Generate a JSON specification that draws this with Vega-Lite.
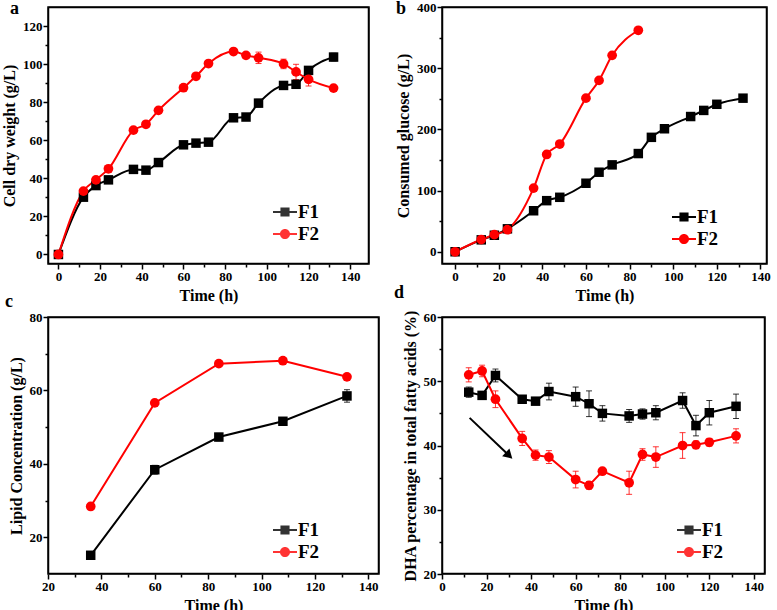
{
  "$schema": "https://vega.github.io/schema/vega-lite/v6.json",
  "background": "white",
  "padding": {"left": 0, "top": -2, "right": 0, "bottom": 0},
  "config": {
    "font": "Liberation Serif",
    "view": {"stroke": "#000000", "strokeWidth": 1.5},
    "axis": {
      "grid": false, "domain": false, "tickColor": "#000000", "tickWidth": 1.5,
      "labelFont": "Liberation Serif", "labelFontWeight": "bold", "labelFontSize": 13, "labelColor": "#000000",
      "titleFont": "Liberation Serif", "titleFontWeight": "bold", "titleFontSize": 16, "titleColor": "#000000",
      "labelPadding": 1, "labelFlush": false, "labelOverlap": false
    },
    "axisX": {"titlePadding": 4},
    "axisY": {"titlePadding": 5},
    "legend": {"orient": "none", "title": null, "symbolSize": 576, "symbolStrokeWidth": 0, "labelFontSize": 19, "labelFontWeight": "bold", "labelFont": "Liberation Serif", "labelColor": "#000000", "labelOffset": 1, "rowPadding": 0, "padding": 0},
    "title": {"font": "Liberation Serif", "fontWeight": "bold", "fontSize": 18, "anchor": "start", "frame": "group", "color": "#000000"}
  },
  "datasets": {
    "a": [
      {"s": "F1", "t": 0, "v": 0, "e": 0}, {"s": "F1", "t": 12, "v": 30.1, "e": 0.5}, {"s": "F1", "t": 18, "v": 36.2, "e": 1},
      {"s": "F1", "t": 24, "v": 39.2, "e": 1}, {"s": "F1", "t": 36, "v": 44.7, "e": 1}, {"s": "F1", "t": 42, "v": 44.3, "e": 1},
      {"s": "F1", "t": 48, "v": 48.3, "e": 1}, {"s": "F1", "t": 60, "v": 57.6, "e": 1}, {"s": "F1", "t": 66, "v": 58.5, "e": 1},
      {"s": "F1", "t": 72, "v": 59.0, "e": 1}, {"s": "F1", "t": 84, "v": 71.8, "e": 1}, {"s": "F1", "t": 90, "v": 72.2, "e": 1.5},
      {"s": "F1", "t": 96, "v": 79.5, "e": 2}, {"s": "F1", "t": 108, "v": 88.8, "e": 2}, {"s": "F1", "t": 114, "v": 89.4, "e": 1.5},
      {"s": "F1", "t": 120, "v": 96.7, "e": 1}, {"s": "F1", "t": 132, "v": 103.7, "e": 2},
      {"s": "F2", "t": 0, "v": 0, "e": 0}, {"s": "F2", "t": 12, "v": 33.3, "e": 0.5}, {"s": "F2", "t": 18, "v": 39.2, "e": 0.5},
      {"s": "F2", "t": 24, "v": 45.0, "e": 0.5}, {"s": "F2", "t": 36, "v": 65.3, "e": 0.5}, {"s": "F2", "t": 42, "v": 68.4, "e": 0.5},
      {"s": "F2", "t": 48, "v": 75.7, "e": 0.5}, {"s": "F2", "t": 60, "v": 87.6, "e": 0.5}, {"s": "F2", "t": 66, "v": 93.6, "e": 0.5},
      {"s": "F2", "t": 72, "v": 100.3, "e": 0.5}, {"s": "F2", "t": 84, "v": 106.6, "e": 1.5}, {"s": "F2", "t": 90, "v": 104.6, "e": 1},
      {"s": "F2", "t": 96, "v": 103.3, "e": 3}, {"s": "F2", "t": 108, "v": 100.1, "e": 2.5}, {"s": "F2", "t": 114, "v": 95.9, "e": 4},
      {"s": "F2", "t": 120, "v": 92.0, "e": 3.5}, {"s": "F2", "t": 132, "v": 87.4, "e": 1}
    ],
    "b": [
      {"s": "F1", "t": 0, "v": 0}, {"s": "F1", "t": 12, "v": 19.5}, {"s": "F1", "t": 18, "v": 27}, {"s": "F1", "t": 24, "v": 37.5},
      {"s": "F1", "t": 36, "v": 67}, {"s": "F1", "t": 42, "v": 83.5}, {"s": "F1", "t": 48, "v": 89}, {"s": "F1", "t": 60, "v": 112},
      {"s": "F1", "t": 66, "v": 130}, {"s": "F1", "t": 72, "v": 142}, {"s": "F1", "t": 84, "v": 160.5}, {"s": "F1", "t": 90, "v": 187},
      {"s": "F1", "t": 96, "v": 201}, {"s": "F1", "t": 108, "v": 221}, {"s": "F1", "t": 114, "v": 231}, {"s": "F1", "t": 120, "v": 241},
      {"s": "F1", "t": 132, "v": 251},
      {"s": "F2", "t": 0, "v": 0}, {"s": "F2", "t": 12, "v": 20}, {"s": "F2", "t": 18, "v": 28}, {"s": "F2", "t": 24, "v": 36},
      {"s": "F2", "t": 36, "v": 104}, {"s": "F2", "t": 42, "v": 159}, {"s": "F2", "t": 48, "v": 176}, {"s": "F2", "t": 60, "v": 251},
      {"s": "F2", "t": 66, "v": 280}, {"s": "F2", "t": 72, "v": 321}, {"s": "F2", "t": 84, "v": 362}
    ],
    "c": [
      {"s": "F1", "t": 36, "v": 15.1, "e": 0.3}, {"s": "F1", "t": 60, "v": 38.4, "e": 1.2}, {"s": "F1", "t": 84, "v": 47.3, "e": 1},
      {"s": "F1", "t": 108, "v": 51.6, "e": 0.7}, {"s": "F1", "t": 132, "v": 58.5, "e": 1.7},
      {"s": "F2", "t": 36, "v": 28.4, "e": 0.4}, {"s": "F2", "t": 60, "v": 56.6, "e": 0.6}, {"s": "F2", "t": 84, "v": 67.3, "e": 0.5},
      {"s": "F2", "t": 108, "v": 68.1, "e": 0.5}, {"s": "F2", "t": 132, "v": 63.7, "e": 0.5}
    ],
    "d": [
      {"s": "F1", "t": 12, "v": 48.3, "e": 0.8}, {"s": "F1", "t": 18, "v": 47.8, "e": 0.5}, {"s": "F1", "t": 24, "v": 50.9, "e": 1},
      {"s": "F1", "t": 36, "v": 47.2, "e": 0.4}, {"s": "F1", "t": 42, "v": 46.9, "e": 0.4}, {"s": "F1", "t": 48, "v": 48.4, "e": 1.3},
      {"s": "F1", "t": 60, "v": 47.6, "e": 1.5}, {"s": "F1", "t": 66, "v": 46.5, "e": 2}, {"s": "F1", "t": 72, "v": 45.0, "e": 1.2},
      {"s": "F1", "t": 84, "v": 44.6, "e": 1}, {"s": "F1", "t": 90, "v": 44.9, "e": 0.8}, {"s": "F1", "t": 96, "v": 45.1, "e": 1.1},
      {"s": "F1", "t": 108, "v": 47.0, "e": 1.2}, {"s": "F1", "t": 114, "v": 43.1, "e": 1.6}, {"s": "F1", "t": 120, "v": 45.1, "e": 1.9},
      {"s": "F1", "t": 132, "v": 46.1, "e": 1.9},
      {"s": "F2", "t": 12, "v": 51.0, "e": 1.1}, {"s": "F2", "t": 18, "v": 51.6, "e": 0.9}, {"s": "F2", "t": 24, "v": 47.2, "e": 1.3},
      {"s": "F2", "t": 36, "v": 41.1, "e": 1.1}, {"s": "F2", "t": 42, "v": 38.5, "e": 0.8}, {"s": "F2", "t": 48, "v": 38.2, "e": 1},
      {"s": "F2", "t": 60, "v": 34.7, "e": 1.3}, {"s": "F2", "t": 66, "v": 33.8, "e": 0.6}, {"s": "F2", "t": 72, "v": 36.0, "e": 0.4},
      {"s": "F2", "t": 84, "v": 34.2, "e": 1.8}, {"s": "F2", "t": 90, "v": 38.6, "e": 0.9}, {"s": "F2", "t": 96, "v": 38.2, "e": 1.6},
      {"s": "F2", "t": 108, "v": 40.0, "e": 2}, {"s": "F2", "t": 114, "v": 40.1, "e": 0.6}, {"s": "F2", "t": 120, "v": 40.5, "e": 0.6},
      {"s": "F2", "t": 132, "v": 41.5, "e": 1.1}
    ],
    "frame_a": [
      {"t": -4.76, "v": 129.74, "t2": 148.76, "v2": 129.74}, {"t": -4.76, "v": -4.74, "t2": 148.76, "v2": -4.74},
      {"t": -4.76, "v": -4.74, "t2": -4.76, "v2": 129.74}, {"t": 148.76, "v": -4.74, "t2": 148.76, "v2": 129.74}
    ],
    "frame_b": [
      {"t": -5.77, "v": 399.18, "t2": 142.77, "v2": 399.18}, {"t": -5.77, "v": -19.18, "t2": 142.77, "v2": -19.18},
      {"t": -5.77, "v": -19.18, "t2": -5.77, "v2": 399.18}, {"t": 142.77, "v": -19.18, "t2": 142.77, "v2": 399.18}
    ],
    "frame_c": [
      {"t": 20.19, "v": 79.86, "t2": 143.81, "v2": 79.86}, {"t": 20.19, "v": 10.14, "t2": 143.81, "v2": 10.14},
      {"t": 20.19, "v": 10.14, "t2": 20.19, "v2": 79.86}, {"t": 143.81, "v": 10.14, "t2": 143.81, "v2": 79.86}
    ],
    "frame_d": [
      {"t": 0.22, "v": 59.92, "t2": 144.78, "v2": 59.92}, {"t": 0.22, "v": 20.08, "t2": 144.78, "v2": 20.08},
      {"t": 0.22, "v": 20.08, "t2": 0.22, "v2": 59.92}, {"t": 144.78, "v": 20.08, "t2": 144.78, "v2": 59.92}
    ],
    "arrow": [{"t": 12.4, "v": 44.3, "t2": 30.1, "v2": 38.44}],
    "arrowhead": [{"t": 30.1, "v": 38.44}]
  },
  "columns": 2,
  "spacing": {"column": 13, "row": -21},
  "resolve": {"scale": {"color": "independent", "shape": "independent"}, "legend": {"color": "independent", "shape": "independent"}},
  "concat": [
    {
      "width": 321, "height": 257,
      "title": {"text": "a", "dx": -38, "dy": 15},
      "data": {"name": "a"},
      "encoding": {
        "x": {"field": "t", "type": "quantitative", "scale": {"domain": [-5, 149], "nice": false, "zero": false},
          "axis": {"title": "Time (h)", "values": [0, 10, 20, 30, 40, 50, 60, 70, 80, 90, 100, 110, 120, 130, 140],
            "labelExpr": "datum.value % 20 === 0 ? datum.label : ''",
            "tickSize": {"condition": {"test": "datum.value % 20 === 0", "value": 5}, "value": 3}}},
        "y": {"field": "v", "type": "quantitative", "scale": {"domain": [-5, 130], "nice": false, "zero": false},
          "axis": {"title": "Cell dry weight (g/L)", "values": [0, 10, 20, 30, 40, 50, 60, 70, 80, 90, 100, 110, 120],
            "labelExpr": "datum.value % 20 === 0 ? datum.label : ''",
            "tickSize": {"condition": {"test": "datum.value % 20 === 0", "value": 5}, "value": 3}}},
        "color": {"field": "s", "type": "nominal", "scale": {"domain": ["F1", "F2"], "range": ["#000000", "#ff0000"]}}
      },
      "layer": [
        {"data": {"name": "frame_a"}, "mark": {"type": "rule", "strokeWidth": 1.5},
          "encoding": {"x2": {"field": "t2"}, "y2": {"field": "v2"}, "color": {"value": "#000000"}}},
        {"mark": {"type": "errorbar", "ticks": {"size": 6}, "thickness": 1, "opacity": 0.8}, "encoding": {"yError": {"field": "e"}}},
        {"mark": {"type": "line", "strokeWidth": 2, "interpolate": "monotone"}, "encoding": {}},
        {"transform": [{"filter": "datum.s === 'F1'"}], "mark": {"type": "point", "shape": "square", "filled": true, "size": 90, "opacity": 1}},
        {"transform": [{"filter": "datum.s === 'F2'"}], "mark": {"type": "point", "shape": "circle", "filled": true, "size": 95, "opacity": 1}},
        {"transform": [{"filter": "false"}], "mark": {"type": "point", "filled": true, "opacity": 1},
          "encoding": {
            "color": {"field": "s", "type": "nominal", "scale": {"domain": ["F1", "F2"], "range": ["#000000", "#ff0000"]}, "legend": {"legendX": 225, "legendY": 193}},
            "shape": {"field": "s", "type": "nominal", "scale": {"domain": ["F1", "F2"], "range": ["M-1,-0.08H1V0.08H-1ZM-0.38,-0.38H0.38V0.38H-0.38Z", "M-1,-0.08H1V0.08H-1ZM0.42,0A0.42,0.42,0,1,1,-0.42,0A0.42,0.42,0,1,1,0.42,0Z"]}, "legend": {"legendX": 225, "legendY": 193}}}}
      ]
    },
    {
      "width": 325, "height": 257,
      "title": {"text": "b", "dx": -46, "dy": 21},
      "data": {"name": "b"},
      "encoding": {
        "x": {"field": "t", "type": "quantitative", "scale": {"domain": [-6, 143], "nice": false, "zero": false},
          "axis": {"title": "Time (h)", "values": [0, 10, 20, 30, 40, 50, 60, 70, 80, 90, 100, 110, 120, 130, 140],
            "labelExpr": "datum.value % 20 === 0 ? datum.label : ''",
            "tickSize": {"condition": {"test": "datum.value % 20 === 0", "value": 5}, "value": 3}}},
        "y": {"field": "v", "type": "quantitative", "scale": {"domain": [-20, 400], "nice": false, "zero": false},
          "axis": {"title": "Consumed glucose (g/L)", "values": [0, 50, 100, 150, 200, 250, 300, 350, 400],
            "labelExpr": "datum.value % 100 === 0 ? datum.label : ''",
            "tickSize": {"condition": {"test": "datum.value % 100 === 0", "value": 5}, "value": 3}}},
        "color": {"field": "s", "type": "nominal", "scale": {"domain": ["F1", "F2"], "range": ["#000000", "#ff0000"]}}
      },
      "layer": [
        {"data": {"name": "frame_b"}, "mark": {"type": "rule", "strokeWidth": 1.5},
          "encoding": {"x2": {"field": "t2"}, "y2": {"field": "v2"}, "color": {"value": "#000000"}}},
        {"mark": {"type": "line", "strokeWidth": 2, "interpolate": "monotone"}, "encoding": {}},
        {"transform": [{"filter": "datum.s === 'F1'"}], "mark": {"type": "point", "shape": "square", "filled": true, "size": 90, "opacity": 1}},
        {"transform": [{"filter": "datum.s === 'F2'"}], "mark": {"type": "point", "shape": "circle", "filled": true, "size": 95, "opacity": 1}},
        {"transform": [{"filter": "false"}], "mark": {"type": "point", "filled": true, "opacity": 1},
          "encoding": {
            "color": {"field": "s", "type": "nominal", "scale": {"domain": ["F1", "F2"], "range": ["#000000", "#ff0000"]}, "legend": {"legendX": 230, "legendY": 198}},
            "shape": {"field": "s", "type": "nominal", "scale": {"domain": ["F1", "F2"], "range": ["M-1,-0.08H1V0.08H-1ZM-0.38,-0.38H0.38V0.38H-0.38Z", "M-1,-0.08H1V0.08H-1ZM0.42,0A0.42,0.42,0,1,1,-0.42,0A0.42,0.42,0,1,1,0.42,0Z"]}, "legend": {"legendX": 230, "legendY": 198}}}}
      ]
    },
    {
      "width": 331, "height": 257,
      "title": {"text": "c", "dx": -43, "dy": 3.7},
      "data": {"name": "c"},
      "encoding": {
        "x": {"field": "t", "type": "quantitative", "scale": {"domain": [20, 144], "nice": false, "zero": false},
          "axis": {"title": "Time (h)", "values": [20, 30, 40, 50, 60, 70, 80, 90, 100, 110, 120, 130, 140],
            "labelExpr": "datum.value % 20 === 0 ? datum.label : ''",
            "tickSize": {"condition": {"test": "datum.value % 20 === 0", "value": 5}, "value": 3}}},
        "y": {"field": "v", "type": "quantitative", "scale": {"domain": [10, 80], "nice": false, "zero": false},
          "axis": {"title": "Lipid Concentration (g/L)", "values": [20, 30, 40, 50, 60, 70, 80],
            "labelExpr": "datum.value % 20 === 0 ? datum.label : ''",
            "tickSize": {"condition": {"test": "datum.value % 20 === 0", "value": 5}, "value": 3}}},
        "color": {"field": "s", "type": "nominal", "scale": {"domain": ["F1", "F2"], "range": ["#000000", "#ff0000"]}}
      },
      "layer": [
        {"data": {"name": "frame_c"}, "mark": {"type": "rule", "strokeWidth": 1.5},
          "encoding": {"x2": {"field": "t2"}, "y2": {"field": "v2"}, "color": {"value": "#000000"}}},
        {"mark": {"type": "errorbar", "ticks": {"size": 6}, "thickness": 1, "opacity": 0.8}, "encoding": {"yError": {"field": "e"}}},
        {"mark": {"type": "line", "strokeWidth": 2}, "encoding": {}},
        {"transform": [{"filter": "datum.s === 'F1'"}], "mark": {"type": "point", "shape": "square", "filled": true, "size": 90, "opacity": 1}},
        {"transform": [{"filter": "datum.s === 'F2'"}], "mark": {"type": "point", "shape": "circle", "filled": true, "size": 95, "opacity": 1}},
        {"transform": [{"filter": "false"}], "mark": {"type": "point", "filled": true, "opacity": 1},
          "encoding": {
            "color": {"field": "s", "type": "nominal", "scale": {"domain": ["F1", "F2"], "range": ["#000000", "#ff0000"]}, "legend": {"legendX": 225, "legendY": 201}},
            "shape": {"field": "s", "type": "nominal", "scale": {"domain": ["F1", "F2"], "range": ["M-1,-0.08H1V0.08H-1ZM-0.38,-0.38H0.38V0.38H-0.38Z", "M-1,-0.08H1V0.08H-1ZM0.42,0A0.42,0.42,0,1,1,-0.42,0A0.42,0.42,0,1,1,0.42,0Z"]}, "legend": {"legendX": 225, "legendY": 201}}}}
      ]
    },
    {
      "width": 323, "height": 257,
      "title": {"text": "d", "dx": -48, "dy": -3.5},
      "data": {"name": "d"},
      "encoding": {
        "x": {"field": "t", "type": "quantitative", "scale": {"domain": [0, 145], "nice": false, "zero": false},
          "axis": {"title": "Time (h)", "values": [0, 10, 20, 30, 40, 50, 60, 70, 80, 90, 100, 110, 120, 130, 140],
            "labelExpr": "datum.value % 20 === 0 ? datum.label : ''",
            "tickSize": {"condition": {"test": "datum.value % 20 === 0", "value": 5}, "value": 3}}},
        "y": {"field": "v", "type": "quantitative", "scale": {"domain": [20, 60], "nice": false, "zero": false},
          "axis": {"title": "DHA percentage in total fatty acids (%)", "values": [20, 25, 30, 35, 40, 45, 50, 55, 60],
            "labelExpr": "datum.value % 10 === 0 ? datum.label : ''",
            "tickSize": {"condition": {"test": "datum.value % 10 === 0", "value": 5}, "value": 3}}},
        "color": {"field": "s", "type": "nominal", "scale": {"domain": ["F1", "F2"], "range": ["#000000", "#ff0000"]}}
      },
      "layer": [
        {"data": {"name": "frame_d"}, "mark": {"type": "rule", "strokeWidth": 1.5},
          "encoding": {"x2": {"field": "t2"}, "y2": {"field": "v2"}, "color": {"value": "#000000"}}},
        {"mark": {"type": "errorbar", "ticks": {"size": 6}, "thickness": 1, "opacity": 0.8}, "encoding": {"yError": {"field": "e"}}},
        {"mark": {"type": "line", "strokeWidth": 2}, "encoding": {}},
        {"transform": [{"filter": "datum.s === 'F1'"}], "mark": {"type": "point", "shape": "square", "filled": true, "size": 90, "opacity": 1}},
        {"transform": [{"filter": "datum.s === 'F2'"}], "mark": {"type": "point", "shape": "circle", "filled": true, "size": 95, "opacity": 1}},
        {"transform": [{"filter": "false"}], "mark": {"type": "point", "filled": true, "opacity": 1},
          "encoding": {
            "color": {"field": "s", "type": "nominal", "scale": {"domain": ["F1", "F2"], "range": ["#000000", "#ff0000"]}, "legend": {"legendX": 235, "legendY": 201}},
            "shape": {"field": "s", "type": "nominal", "scale": {"domain": ["F1", "F2"], "range": ["M-1,-0.08H1V0.08H-1ZM-0.38,-0.38H0.38V0.38H-0.38Z", "M-1,-0.08H1V0.08H-1ZM0.42,0A0.42,0.42,0,1,1,-0.42,0A0.42,0.42,0,1,1,0.42,0Z"]}, "legend": {"legendX": 235, "legendY": 201}}}},
        {"data": {"name": "arrow"}, "mark": {"type": "rule", "strokeWidth": 2},
          "encoding": {"x2": {"field": "t2"}, "y2": {"field": "v2"}, "color": {"value": "#000000"}}},
        {"data": {"name": "arrowhead"}, "mark": {"type": "point", "shape": "triangle-right", "angle": 44, "size": 110, "filled": true, "opacity": 1},
          "encoding": {"color": {"value": "#000000"}}}
      ]
    }
  ]
}
